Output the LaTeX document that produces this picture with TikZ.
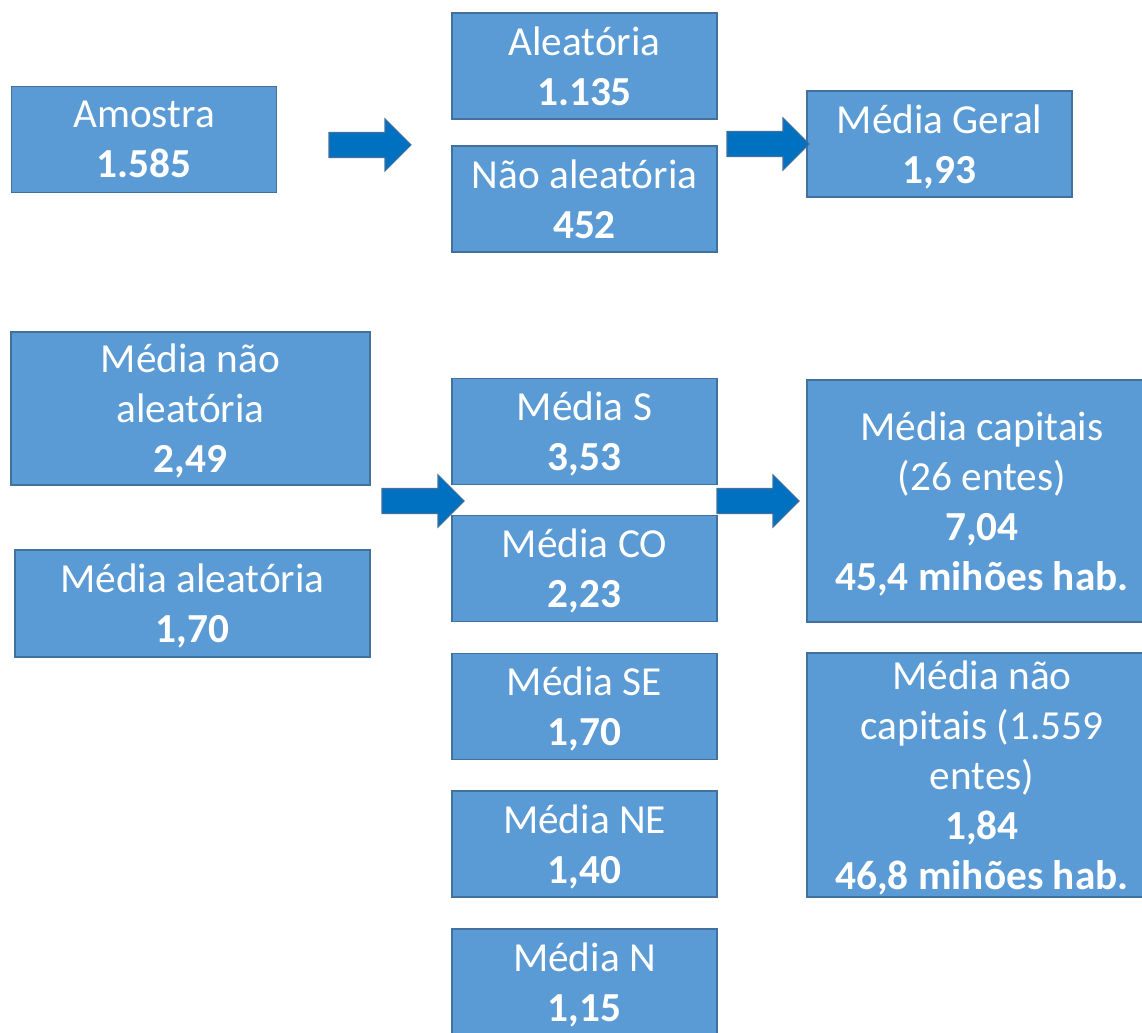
\documentclass[tikz,border=0pt]{standalone}
\usepackage{fontspec}
\setmainfont{Carlito}

\definecolor{boxfill}{HTML}{5B9BD5}
\definecolor{boxline}{HTML}{41719C}
\definecolor{arrowfill}{HTML}{0070C0}

\tikzset{
	box/.style = {draw = boxline, fill = boxfill, line width = 0.85pt, text = white,
		align = center, inner sep = 0pt, text depth = 0pt, font = \fontsize{23.5}{28.5}\selectfont},
	small/.style = {minimum width = 5.3cm, minimum height = 2.13cm},
	bigarrow/.style = {draw = boxline, fill = arrowfill, line width = 0.6pt}
}

\begin{document}
\begin{tikzpicture}[x = 0.02cm, y = -0.02cm]

	\useasboundingbox (0, 0) rectangle (1142, 1033);
	\clip (0, 0) rectangle (1142, 1033);

	% Top row
	
	\node [box, small] (amostra) at (144, 139.5) {Amostra\\\textbf{1.585}};
	\node [box, small] (aleat) at (584.5, 66) {Aleatória\\\textbf{1.135}};
	\node [box, small] (naoaleat) at (584.5, 199) {Não aleatória\\\textbf{452}};
	\node [box, small] (geral) at (939.5, 144) {Média Geral\\\textbf{1,93}};

	% Left column
	
	\node [box, minimum width = 7.18cm, minimum height = 3.06cm] (mnaoaleat) at (190.5, 408.5)
		{Média não\\aleatória\\\textbf{2,49}};
	\node [box, minimum width = 7.1cm, minimum height = 2.14cm] (maleat) at (192.5, 603.5)
		{Média aleatória\\\textbf{1,70}};

	% Regions
	
	\node [box, small] (ms) at (584.5, 431.5) {Média S\\\textbf{3,53}};
	\node [box, small] (mco) at (584.5, 568.5) {Média CO\\\textbf{2,23}};
	\node [box, small] (mse) at (584.5, 706.5) {Média SE\\\textbf{1,70}};
	\node [box, small] (mne) at (584.5, 844) {Média NE\\\textbf{1,40}};
	\node [box, small] (mn) at (584.5, 982) {Média N\\\textbf{1,15}};

	% Capitals
	
	\node [box, minimum width = 7.0cm, minimum height = 4.84cm] (mcap) at (982, 501)
		{Média capitais\\(26 entes)\\\textbf{7,04}\\\textbf{45,4 mihões hab.}};
	\node [box, minimum width = 7.0cm, minimum height = 4.88cm] (mnaocap) at (982, 775)
		{Média não\\capitais (1.559\\entes)\\\textbf{1,84}\\\textbf{46,8 mihões hab.}};

	% Arrows
	
	\foreach \x/\y in {329/145, 727/144, 382/501, 717/501}
		\draw [bigarrow] (\x, \y - 12.5) -- ++(56, 0) -- ++(0, -13.5) -- ++(26, 26)
			-- ++(-26, 26) -- ++(0, -13.5) -- ++(-56, 0) -- cycle;

\end{tikzpicture}
\end{document}
